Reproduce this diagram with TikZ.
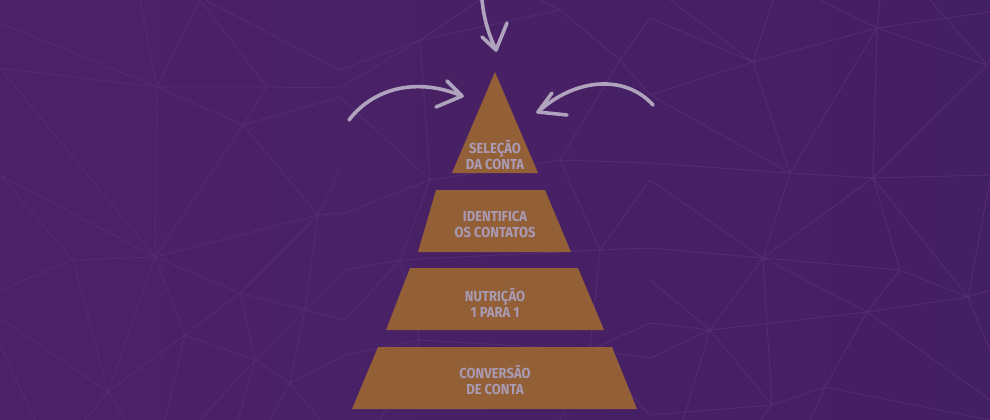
\documentclass[tikz,border=0pt]{standalone}
\usepackage{fontspec}
\setmainfont{Fira Sans}[FakeStretch=0.9]
\definecolor{bgL}{HTML}{4C2168}
\definecolor{bgR}{HTML}{432062}
\definecolor{netc}{HTML}{542B73}
\definecolor{pyr}{HTML}{935F37}
\definecolor{txt}{HTML}{A99BB3}
\definecolor{arr}{HTML}{AFA3BD}
\tikzset{
  layer/.style={fill=pyr, draw=none},
  lbl/.style={text=txt, font=\bfseries\fontsize{14.5}{15.5}\selectfont, align=center, inner sep=0pt},
  arrowline/.style={draw=arr, line width=3.6pt, line cap=round, line join=round},
  net/.style={draw=netc, line width=0.9pt}
}
\begin{document}
\begin{tikzpicture}[x=1pt,y=-1pt]
\shade[left color=bgL, right color=bgR] (0,0) rectangle (990,420);
\useasboundingbox (0,0) rectangle (990,420);
% background network
\begin{scope}[net]
\draw (0,23)--(157,87) (0,68)--(157,87) (157,87)--(267,87)--(340,88)
  (140,0)--(157,87)--(200,0)--(267,87) (205,0)--(340,70)
  (157,87)--(243,125)--(267,87) (243,125)--(340,97) (243,125)--(318,215)
  (243,125)--(155,257) (157,87)--(155,257) (0,68)--(155,257) (0,175)--(155,257)
  (155,257)--(73,260) (0,175)--(73,260)--(0,290) (155,257)--(318,215)
  (318,215)--(340,170) (318,215)--(345,213) (155,257)--(240,293)--(318,215)
  (155,257)--(185,335) (155,257)--(108,392) (73,260)--(108,392)
  (240,293)--(305,310)--(318,215) (305,310)--(345,320) (305,310)--(345,270)
  (240,293)--(255,360) (185,335)--(240,293) (185,335)--(255,360)
  (185,335)--(108,392) (185,335)--(165,420) (0,318)--(108,392) (0,345)--(35,420)
  (108,392)--(85,420) (108,392)--(125,420) (255,360)--(305,310)
  (255,360)--(290,383)--(305,310) (290,383)--(345,355) (255,360)--(200,420)
  (255,360)--(238,420) (290,383)--(270,420) (290,383)--(320,420);
% middle
\draw (340,88)--(420,40)--(480,0) (340,70)--(420,40) (420,40)--(430,180)
  (340,97)--(430,180)--(345,213) (430,180)--(400,260)--(345,270)
  (400,260)--(345,320) (400,260)--(420,340)--(345,355) (420,340)--(380,420)
  (420,40)--(560,10)--(620,60)--(650,18) (560,10)--(540,0)
  (620,60)--(650,95) (620,60)--(560,160)--(650,163) (560,160)--(430,180)
  (560,160)--(600,250)--(650,248) (600,250)--(650,180) (600,250)--(400,260)
  (600,250)--(590,350)--(650,323) (590,350)--(650,358) (590,350)--(420,340)
  (590,350)--(560,420) (590,350)--(650,415);
% right
\draw (650,18)--(753,62)--(670,0) (753,62)--(773,0) (650,95)--(753,62)--(877,28)--(990,12)
  (820,0)--(877,28)--(880,0) (877,28)--(987,65)--(930,0) (987,65)--(990,60)
  (753,62)--(790,173) (650,95)--(790,173) (650,163)--(790,173)--(873,178)--(990,175)
  (877,28)--(873,178) (790,173)--(877,28) (987,65)--(873,178)--(763,258)
  (790,173)--(763,258) (650,180)--(763,258) (650,248)--(763,258)--(900,270)
  (873,178)--(900,270) (873,178)--(968,297) (990,180)--(968,297)
  (900,270)--(968,297)--(990,290) (968,297)--(990,350) (763,258)--(867,312)
  (900,270)--(867,312)--(968,297) (763,258)--(710,330) (763,258)--(772,405)
  (650,280)--(710,330) (650,323)--(710,330) (710,330)--(867,312)
  (650,358)--(710,330)--(683,420) (710,330)--(772,405) (867,312)--(825,387)
  (867,312)--(990,400) (825,387)--(772,405) (825,387)--(990,420)
  (825,387)--(810,420) (772,405)--(650,415) (772,405)--(760,420);
\end{scope}
% pyramid
\fill[layer] (495,72)--(538,173)--(452,173)--cycle;
\fill[layer] (436,190)--(545,190)--(571,252)--(418,252)--cycle;
\fill[layer] (410,268)--(578,268)--(604,330)--(386,330)--cycle;
\fill[layer] (378,347)--(612,347)--(637,409)--(352,409)--cycle;
\node[lbl] (l1) at (495,155) {SELEÇÃO\\DA CONTA};
\node[lbl] (l2) at (495,224.5) {IDENTIFICA\\OS CONTATOS};
\node[lbl] (l3) at (495,303) {NUTRIÇÃO\\1 PARA 1};
\node[lbl] (l4) at (495,380) {CONVERSÃO\\DE CONTA};
% arrows
\coordinate (ta) at (482,0);
\coordinate (tt) at (496,50);
\coordinate (la) at (349,120);
\coordinate (lt) at (462,96);
\coordinate (ra) at (653,105);
\coordinate (rt) at (538,112);
\draw[arrowline] (ta) .. controls (484,20) and (489,35) .. (tt);
\draw[arrowline] (482,37)--(tt)--(507,23);
\draw[arrowline] (la) .. controls (375,86) and (420,78) .. (lt);
\draw[arrowline] (447,81)--(lt)--(436,107);
\draw[arrowline] (ra) .. controls (625,74) and (575,78) .. (rt);
\draw[arrowline] (552,93)--(rt)--(567,115);
\end{tikzpicture}
\end{document}
